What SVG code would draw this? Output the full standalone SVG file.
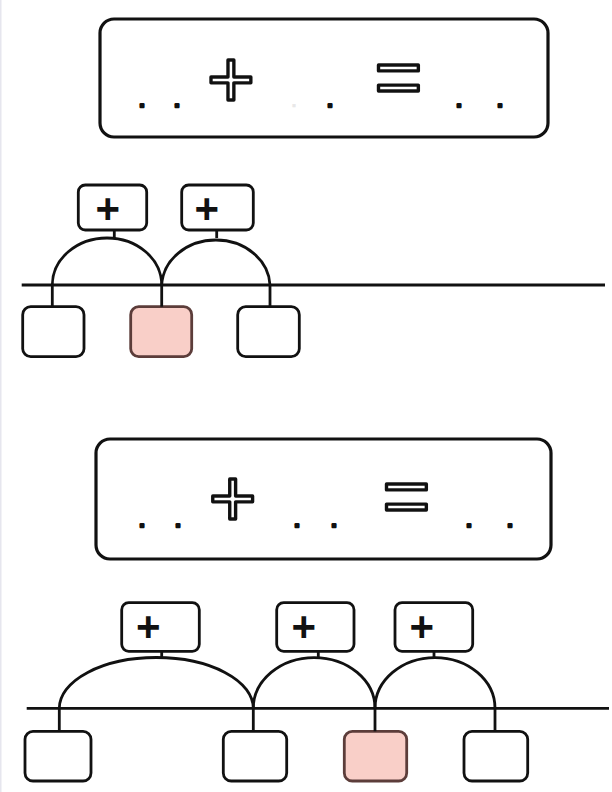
<svg xmlns="http://www.w3.org/2000/svg" width="612" height="792" viewBox="0 0 612 792">
<style>
.big{fill:#fff;stroke:#111;stroke-width:3.2}
.box{fill:#fff;stroke:#111;stroke-width:2.8}
.pink{fill:#f9cfc8;stroke:#5c3d3a;stroke-width:2.8}
.ln{fill:none;stroke:#111;stroke-width:2.8}
.sym{font-family:"Liberation Sans",Arial,sans-serif;font-size:82px;fill:#fff;stroke:#111;stroke-width:3.4;stroke-linejoin:round;text-anchor:middle}
.dot{font-family:"Liberation Sans",Arial,sans-serif;font-weight:bold;font-size:18px;fill:#111;stroke:#111;stroke-width:2.6;stroke-linejoin:round;text-anchor:middle}
.pl{font-family:"Liberation Sans",Arial,sans-serif;font-weight:bold;font-size:42px;fill:#111;text-anchor:middle}
</style>
<rect x="0" y="0" width="1.5" height="792" fill="#e6e6ee"/>

<g id="equation1">
<rect class="big" x="100" y="19" width="448" height="118" rx="14"/>
<text class="dot" x="142" y="107">.</text>
<text class="dot" x="177" y="107">.</text>
<text class="sym" x="231" y="106.5">+</text>
<text class="dot" x="294" y="107" style="fill:#e8e8e8;stroke:#e8e8e8;stroke-width:0.5">.</text>
<text class="dot" x="330" y="107">.</text>
<text class="sym" x="398.5" y="105">=</text>
<text class="dot" x="459" y="107">.</text>
<text class="dot" x="500" y="107">.</text>
</g>

<g id="tree1-plus1"><rect class="box" x="78.3" y="185" width="68.4" height="45" rx="7"/><text class="pl" x="107.7" y="223">+</text></g>
<g id="tree1-plus2"><rect class="box" x="181.7" y="185" width="71.6" height="45" rx="7"/><text class="pl" x="206.7" y="223">+</text></g>
<g id="tree1-n1"><rect class="box" x="22.7" y="306.7" width="61.3" height="50" rx="8"/></g>
<g id="tree1-n2"><rect class="pink" x="130.7" y="306.7" width="61" height="50" rx="8"/></g>
<g id="tree1-n3"><rect class="box" x="237.7" y="306.7" width="61.6" height="50" rx="8"/></g>
<g id="tree1-connectors">
<line class="ln" x1="21.7" y1="285" x2="605" y2="285"/>
<line class="ln" x1="114.3" y1="230" x2="114.3" y2="238"/>
<line class="ln" x1="216.7" y1="230" x2="216.7" y2="238"/>
<path class="ln" d="M52.3,285 A54.7,47 0 0 1 161.7,285"/>
<path class="ln" d="M161.7,285 A54.2,47 0 0 1 270,285"/>
<line class="ln" x1="52.3" y1="285" x2="52.3" y2="306.7"/>
<line class="ln" x1="161.7" y1="285" x2="161.7" y2="306.7"/>
<line class="ln" x1="270" y1="285" x2="270" y2="306.7"/>
</g>

<g id="equation2">
<rect class="big" x="96" y="439" width="455" height="120" rx="14"/>
<text class="dot" x="142" y="527">.</text>
<text class="dot" x="178" y="527">.</text>
<text class="sym" x="232.7" y="525.5">+</text>
<text class="dot" x="297" y="527">.</text>
<text class="dot" x="334" y="527">.</text>
<text class="sym" x="406.5" y="524">=</text>
<text class="dot" x="469" y="527">.</text>
<text class="dot" x="510" y="527">.</text>
</g>

<g id="tree2-plus1"><rect class="box" x="121.7" y="602.7" width="77.6" height="48.6" rx="7"/><text class="pl" x="148.3" y="641">+</text></g>
<g id="tree2-plus2"><rect class="box" x="276.7" y="602.7" width="77.3" height="48.6" rx="7"/><text class="pl" x="303.7" y="641">+</text></g>
<g id="tree2-plus3"><rect class="box" x="395" y="602.7" width="77.7" height="48.6" rx="7"/><text class="pl" x="421.7" y="641">+</text></g>
<g id="tree2-n1"><rect class="box" x="25" y="731.3" width="66" height="49.7" rx="8"/></g>
<g id="tree2-n2"><rect class="box" x="223.3" y="731.3" width="63.4" height="49.7" rx="8"/></g>
<g id="tree2-n3"><rect class="pink" x="344.3" y="731.3" width="62.4" height="49.7" rx="8"/></g>
<g id="tree2-n4"><rect class="box" x="464" y="731.3" width="63.7" height="49.7" rx="8"/></g>
<g id="tree2-connectors">
<line class="ln" x1="26.7" y1="708.3" x2="609" y2="708.3"/>
<line class="ln" x1="161.7" y1="651.3" x2="161.7" y2="657.5"/>
<line class="ln" x1="318.3" y1="651.3" x2="318.3" y2="657.5"/>
<line class="ln" x1="434" y1="651.3" x2="434" y2="657.5"/>
<path class="ln" d="M59.3,708.3 A97,50.8 0 0 1 253.3,708.3"/>
<path class="ln" d="M253.3,708.3 A60.85,50.8 0 0 1 375,708.3"/>
<path class="ln" d="M375,708.3 A60,50.8 0 0 1 495,708.3"/>
<line class="ln" x1="59.3" y1="708.3" x2="59.3" y2="731.3"/>
<line class="ln" x1="253.3" y1="708.3" x2="253.3" y2="731.3"/>
<line class="ln" x1="375" y1="708.3" x2="375" y2="731.3"/>
<line class="ln" x1="495" y1="708.3" x2="495" y2="731.3"/>
</g>
</svg>
